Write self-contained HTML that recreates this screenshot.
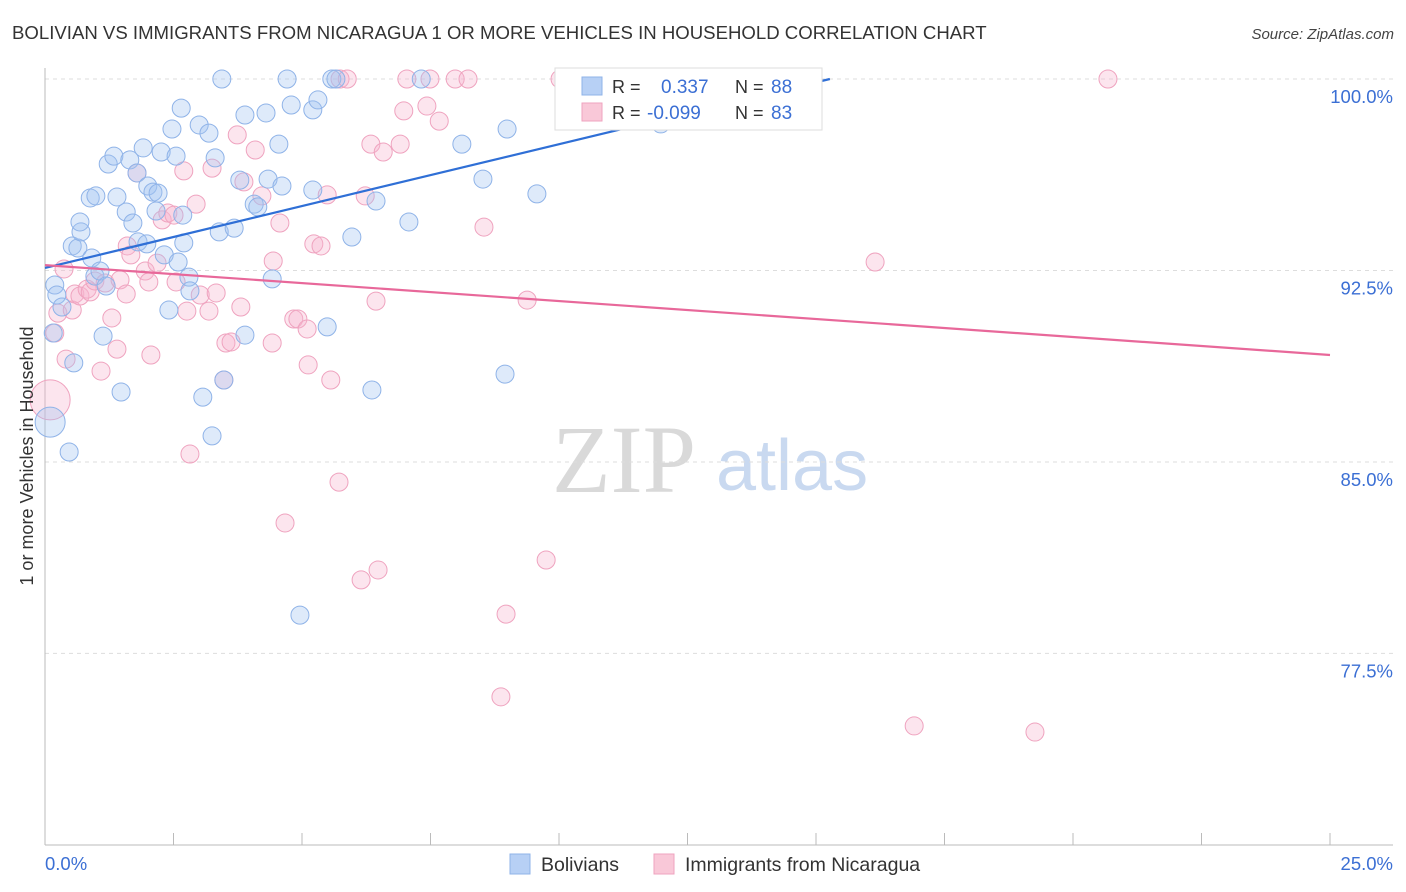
<!DOCTYPE html>
<html><head><meta charset="utf-8"><style>
html,body{margin:0;padding:0;background:#fff;}
body{width:1406px;height:892px;overflow:hidden;font-family:"Liberation Sans",sans-serif;}
</style></head><body>
<svg id="chart" width="1406" height="892" xmlns="http://www.w3.org/2000/svg" style="position:absolute;left:0;top:0">
<text x="12" y="39" font-size="18.6" fill="#333">BOLIVIAN VS IMMIGRANTS FROM NICARAGUA 1 OR MORE VEHICLES IN HOUSEHOLD CORRELATION CHART</text>
<text x="1394" y="39" font-size="15" fill="#444" font-style="italic" text-anchor="end">Source: ZipAtlas.com</text>
<g>
<text x="552" y="492" font-size="96" font-family="Liberation Serif,serif" fill="#d9d9d9">ZIP</text>
<text x="716" y="490" font-size="72" fill="#c9d9f0">atlas</text>
</g>
<g id="grid"></g>
<g id="axes"></g>
<g id="marks"></g>
<g id="trends"></g>
<g>
<rect x="555" y="68" width="267" height="62" fill="#fff" stroke="#ddd"/>
<rect x="582" y="77" width="20" height="18" fill="#b7d0f5" stroke="#8fb3e8"/>
<text x="612" y="93" font-size="18" fill="#333">R =</text>
<text x="661" y="93" font-size="19" fill="#3b6fd4">0.337</text>
<text x="735" y="93" font-size="18" fill="#333">N =</text>
<text x="771" y="93" font-size="19" fill="#3b6fd4">88</text>
<rect x="582" y="103" width="20" height="18" fill="#f9c8d8" stroke="#efa3bf"/>
<text x="612" y="119" font-size="18" fill="#333">R =</text>
<text x="647" y="119" font-size="19" fill="#3b6fd4">-0.099</text>
<text x="735" y="119" font-size="18" fill="#333">N =</text>
<text x="771" y="119" font-size="19" fill="#3b6fd4">83</text>
</g>
<g>
<rect x="510" y="854" width="20" height="20" fill="#b7d0f5" stroke="#8fb3e8"/>
<text x="541" y="871" font-size="19.5" fill="#333">Bolivians</text>
<rect x="654" y="854" width="20" height="20" fill="#f9c8d8" stroke="#efa3bf"/>
<text x="685" y="871" font-size="19.5" fill="#333">Immigrants from Nicaragua</text>
</g>
<text transform="translate(33,456) rotate(-90)" font-size="18" fill="#333" text-anchor="middle">1 or more Vehicles in Household</text>
</svg>
<script>
const yTicks=[100,92.5,85,77.5];
const yTickLabels=["100.0%","92.5%","85.0%","77.5%"];
const xTickLabels=["0.0%","25.0%"];
const bolX=[.10,.16,.19,.23,.33,.47,.56,.53,.64,.70,.68,.88,.99,.91,.97,1.07,1.13,1.19,1.23,1.34,1.40,1.48,1.58,1.65,1.71,1.79,1.81,1.91,1.98,2.00,2.10,2.16,2.20,2.26,2.32,2.41,2.47,2.55,2.59,2.65,2.68,2.70,2.80,2.82,3.00,3.07,3.19,3.25,3.31,3.39,3.44,3.48,3.68,3.79,3.89,3.89,4.07,4.14,4.30,4.34,4.42,4.55,4.61,4.71,4.79,4.96,5.21,5.21,5.31,5.49,5.58,5.66,5.97,6.36,6.44,7.08,7.32,8.11,8.52,8.95,8.99,9.57,11.75,11.98];
const bolY=[86.56,90.05,91.93,91.54,91.07,85.39,88.88,93.46,93.38,94.01,94.40,95.34,95.42,92.99,92.28,92.48,89.93,91.89,96.67,96.98,95.38,87.74,94.79,96.83,94.36,96.32,93.62,97.3,93.54,95.81,95.57,94.83,95.53,97.14,93.11,90.95,98.04,96.98,92.83,98.86,94.67,93.58,92.24,91.7,98.2,87.54,97.88,86.02,96.91,94.01,100,88.21,94.16,96.04,89.97,98.59,95.1,94.99,98.67,96.08,92.17,97.45,95.81,100,98.98,79.0,98.79,95.65,99.18,90.29,100,100,93.81,87.82,95.22,94.40,100,97.45,96.08,88.44,98.04,95.5,100,98.24];
const nicX=[.10,.19,.25,.37,.41,.53,.58,.68,.82,.88,.97,1.09,1.17,1.30,1.40,1.46,1.58,1.60,1.67,1.79,1.95,2.02,2.06,2.18,2.28,2.39,2.51,2.55,2.70,2.76,2.82,2.94,3.02,3.19,3.25,3.33,3.48,3.52,3.62,3.74,3.81,3.87,4.09,4.22,4.42,4.44,4.57,4.67,4.84,4.92,5.10,5.12,5.23,5.37,5.49,5.56,5.74,5.88,5.72,6.15,6.23,6.34,6.44,6.48,6.58,6.91,6.98,7.04,7.43,7.49,7.67,7.98,8.23,8.54,8.87,8.97,9.38,9.75,10.02,12.04,16.15,16.91,19.26,20.68];
const nicY=[87.43,90.05,90.83,92.56,89.03,90.95,91.58,91.5,91.77,91.66,92.09,88.56,92.01,90.64,89.42,92.13,91.58,93.46,93.11,96.32,92.48,92.05,89.19,92.79,94.48,94.75,94.67,92.05,96.4,90.91,85.31,95.1,91.54,90.91,96.51,91.62,88.21,89.66,89.7,97.81,91.07,95.97,97.22,95.42,89.66,92.87,94.36,82.61,90.6,90.6,90.21,88.8,93.54,93.46,95.46,88.21,100,100,84.21,80.38,95.42,97.45,91.3,80.77,97.14,97.45,98.75,100,98.94,100,98.35,100,100,94.2,75.8,79.04,91.34,81.16,100,99.18,92.83,74.66,74.42,100];
const bolTrend=[[0,92.6],[15.27,100]];
const nicTrend=[[0,92.71],[25,89.19]];
const NS="http://www.w3.org/2000/svg";
const X0=45,X1=1330,Y100=79,PXPER=25.53;
function sx(v){return X0+(X1-X0)*v/25;}
function sy(v){return Y100+(100-v)*PXPER;}
function mk(tag,attrs,parent){const e=document.createElementNS(NS,tag);for(const k in attrs)e.setAttribute(k,attrs[k]);parent.appendChild(e);return e;}
const grid=document.getElementById('grid'),axes=document.getElementById('axes'),marks=document.getElementById('marks'),trends=document.getElementById('trends');
yTicks.forEach((t,i)=>{
 const l=mk('line',{x1:X0,x2:1393,y1:sy(t),y2:sy(t),stroke:'#ddd','stroke-dasharray':'4,4'},grid);
 
 
 const tx=mk('text',{x:1393,y:sy(t)+24,'font-size':18.5,fill:'#3b6fd4','text-anchor':'end'},axes);
 tx.textContent=yTickLabels[i];
 
 
});
const ya=mk('line',{x1:X0,x2:X0,y1:68,y2:845,stroke:'#bbb'},axes);


const xa=mk('line',{x1:X0,x2:1393,y1:845,y2:845,stroke:'#bbb'},axes);


for(let i=0;i<=10;i++){
 const v=i*2.5;
 const tk=mk('line',{x1:sx(v),x2:sx(v),y1:833,y2:845,stroke:'#bbb'},axes);
 
 
}
const xl0=mk('text',{x:45,y:870,'font-size':18.5,fill:'#3b6fd4'},axes);xl0.textContent=xTickLabels[0];


const xl1=mk('text',{x:1393,y:870,'font-size':18.5,fill:'#3b6fd4','text-anchor':'end'},axes);xl1.textContent=xTickLabels[1];


function drawPts(xs,ys,fill,stroke,name){
 xs.forEach((x,i)=>{
  const r=i===0?(name==='point-nicaragua'?20:15):9;
  const c=mk('circle',{cx:sx(x),cy:sy(ys[i]),r:r,fill:fill,stroke:stroke,'stroke-width':1},marks);
  
  
 });
}
drawPts(nicX,nicY,'rgba(246,180,205,0.35)','#efa3bf','point-nicaragua');
drawPts(bolX,bolY,'rgba(160,195,242,0.35)','#8fb3e8','point-bolivians');
const bt=mk('line',{x1:sx(bolTrend[0][0]),y1:sy(bolTrend[0][1]),x2:sx(bolTrend[1][0]),y2:sy(bolTrend[1][1]),stroke:'#2f6fd6','stroke-width':2.2},trends);


const nt=mk('line',{x1:sx(nicTrend[0][0]),y1:sy(nicTrend[0][1]),x2:sx(nicTrend[1][0]),y2:sy(nicTrend[1][1]),stroke:'#e8689a','stroke-width':2.2},trends);


</script>
</body></html>
